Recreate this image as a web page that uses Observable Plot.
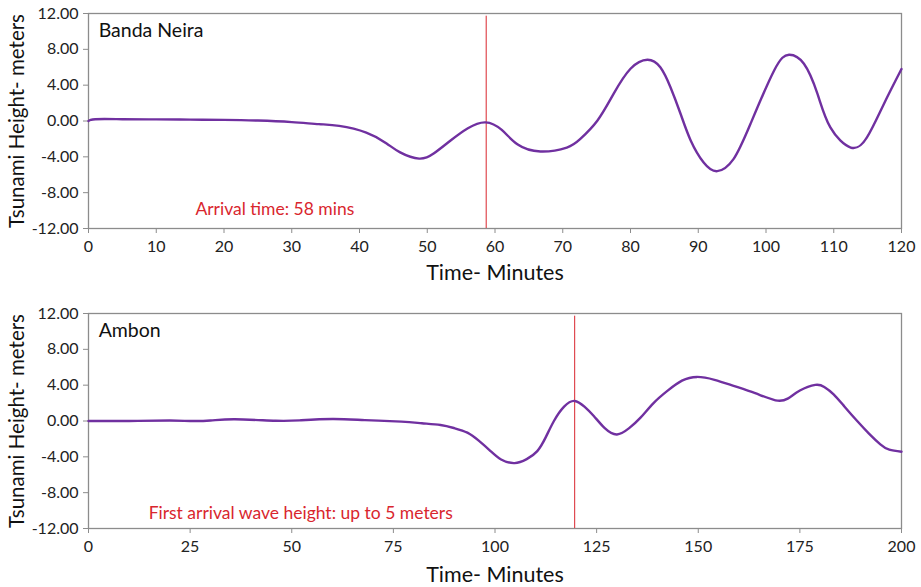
<!DOCTYPE html>
<html>
<head>
<meta charset="utf-8">
<script src="https://cdn.jsdelivr.net/npm/d3@7"></script>
<script src="https://cdn.jsdelivr.net/npm/@observablehq/plot@0.6"></script>
<style>
  html, body { margin: 0; padding: 0; background: #fff; }
  #chart { width: 921px; }
  #chart svg { display: block; }
</style>
</head>
<body>
<div id="chart"></div>
<script>
// ---- Data ----
const bandaT = [0, 1, 5, 10, 15, 20, 25, 30, 34, 37, 41, 44, 46, 48.8, 51, 53.4, 56, 58.6, 61, 63.3, 66.7, 70.6, 72.6, 75.1, 77.5, 80, 82.5, 84.4, 85.9, 87.4, 88.9, 90.8, 92.8, 95.2, 97.7, 101.2, 103.4, 105.6, 107.6, 109.5, 112.5, 114.9, 117.4, 120];
const bandaH = [0, 0.2, 0.2, 0.18, 0.15, 0.12, 0.05, -0.12, -0.35, -0.55, -1.3, -2.5, -3.5, -4.2, -3.6, -2.2, -0.8, -0.15, -1.0, -2.6, -3.4, -2.96, -2.0, 0.03, 3.03, 5.83, 6.84, 6.0, 3.77, 0.78, -2.2, -4.64, -5.6, -4.26, -0.34, 5.64, 7.4, 6.39, 3.03, -0.72, -2.96, -1.84, 1.9, 5.8];

const ambonT = [0, 10, 20, 25, 30, 36, 46, 52, 60, 68, 77, 82, 86.6, 90, 93.2, 96, 98.9, 101.5, 104.8, 107.8, 110.4, 112.5, 114.5, 117, 119.6, 122, 124.3, 127, 130, 133, 135.8, 139, 142.4, 146, 149.7, 154, 158.7, 164, 169, 172, 175, 178.8, 181, 183.3, 186, 189.1, 192, 194.8, 197, 200];
const ambonH = [0, 0, 0.05, 0, 0.05, 0.19, 0.03, 0.07, 0.22, 0.1, -0.07, -0.25, -0.45, -0.8, -1.3, -2.2, -3.36, -4.3, -4.7, -4.25, -3.36, -1.8, 0, 1.6, 2.24, 1.6, 0.56, -0.8, -1.5, -0.8, 0.37, 2.0, 3.36, 4.5, 4.92, 4.6, 3.92, 3.1, 2.31, 2.5, 3.4, 4.03, 3.8, 2.98, 1.6, 0, -1.4, -2.6, -3.2, -3.43];

const yTicks = [-12, -8, -4, 0, 4, 8, 12];
const bandaXTicks = [0, 10, 20, 30, 40, 50, 60, 70, 80, 90, 100, 110, 120];
const ambonXTicks = [0, 25, 50, 75, 100, 125, 150, 175, 200];

const panels = [
  {name: "Banda Neira", t: bandaT, h: bandaH, xMax: 120, xTicks: bandaXTicks,
   arrival: 58.7, note: "Arrival time: 58 mins", noteX: 27.5, noteY: -9.9,
   height: 290, marginTop: 13, marginBottom: 62, titleDy: 45},
  {name: "Ambon", t: ambonT, h: ambonH, xMax: 200, xTicks: ambonXTicks,
   arrival: 119.6, note: "First arrival wave height: up to 5 meters", noteX: 52.2, noteY: -10.3,
   height: 297, marginTop: 23, marginBottom: 59, titleDy: 47}
];

const yTitle = "Tsunami Height- meters";
const xTitle = "Time- Minutes";
const FONT = "Lato, 'Open Sans', sans-serif";
const AXIS = "#8c8c8c";
const PURPLE = "#7030a0";
const RED = "#d9262e";

for (const p of panels) {
  const data = p.t.map((t, i) => ({t, h: p.h[i]}));
  const chart = Plot.plot({
    width: 921,
    height: p.height,
    marginLeft: 88,
    marginRight: 20,
    marginTop: p.marginTop,
    marginBottom: p.marginBottom,
    style: {fontFamily: FONT, background: "#fff", color: "#222"},
    x: {domain: [0, p.xMax]},
    y: {domain: [-12, 12]},
    marks: [
      Plot.frame({stroke: AXIS, strokeWidth: 1.3}),
      Plot.axisX({ticks: p.xTicks, tickSize: 5, tickPadding: 7, fontSize: 16, stroke: AXIS, label: null, tickFormat: d => String(d)}),
      Plot.axisY({ticks: yTicks, tickSize: 5, tickPadding: 5, fontSize: 16, stroke: AXIS, label: null, tickFormat: d => d.toFixed(2)}),
      Plot.ruleX([p.arrival], {y1: 11.7, y2: -12, stroke: RED, strokeWidth: 1}),
      Plot.line(data, {x: "t", y: "h", stroke: PURPLE, strokeWidth: 2.4, curve: "natural"}),
      Plot.text([p.name], {x: p.xMax * 0.0125, y: 10.1, textAnchor: "start", fontSize: 19.5, fill: "#111"}),
      Plot.text([p.note], {x: p.noteX, y: p.noteY, fontSize: 17.5, fill: RED}),
      Plot.text([yTitle], {frameAnchor: "left", textAnchor: "middle", rotate: -90, dx: -71, fontSize: 20.5, fill: "#111"}),
      Plot.text([xTitle], {frameAnchor: "bottom", lineAnchor: "middle", dy: p.titleDy, fontSize: 21.5, fill: "#111"})
    ]
  });
  document.getElementById("chart").appendChild(chart);
}
</script>
</body>
</html>
